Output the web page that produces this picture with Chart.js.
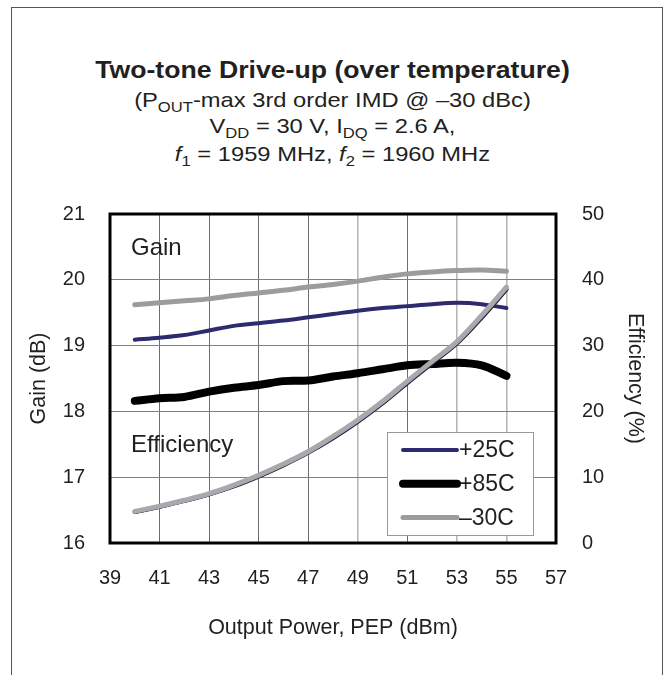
<!DOCTYPE html>
<html>
<head>
<meta charset="utf-8">
<script src="https://cdn.jsdelivr.net/npm/chart.js@4.4.1/dist/chart.umd.min.js"></script>
<style>
  html, body { margin: 0; padding: 0; background: #fff; }
  #wrap { position: relative; width: 665px; height: 675px; overflow: hidden; font-family: "Liberation Sans", Arial, sans-serif; color: #231f20; }
  #frame { position: absolute; left: 11px; top: 7px; width: 650px; height: 720px; border: 1.5px solid #555; border-bottom: none; }
  .t { position: absolute; left: 0; width: 665px; text-align: center; white-space: nowrap; }
  .t1 { top: 58px; font-size: 24px; line-height: 24px; font-weight: bold; transform: scaleX(1.11); }
  .t2 { font-size: 21px; line-height: 21px; transform: scaleX(1.13); }
  .t sub { font-size: 0.7em; vertical-align: baseline; position: relative; top: 0.35em; line-height: 0; }
  canvas { position: absolute; left: 0; top: 0; }
</style>
</head>
<body>
<div id="wrap">
  <div id="frame"></div>
  <div class="t t1">Two-tone Drive-up (over temperature)</div>
  <div class="t t2" style="top:89px">(P<sub>OUT</sub>-max 3rd order IMD @ –30 dBc)</div>
  <div class="t t2" style="top:115px">V<sub>DD</sub> = 30 V, I<sub>DQ</sub> = 2.6 A,</div>
  <div class="t t2" style="top:143px"><i>f</i><sub>1</sub> = 1959 MHz, <i>f</i><sub>2</sub> = 1960 MHz</div>
  <canvas id="chart" width="665" height="675"></canvas>
</div>
<script>
// output power (dBm)
const power = [40, 41, 42, 43, 44, 45, 46, 47, 48, 49, 50, 51, 52, 53, 54, 55];

// gain (dB)
const gain25 = [19.09, 19.12, 19.16, 19.23, 19.30, 19.34, 19.38, 19.43, 19.48, 19.53, 19.57, 19.60, 19.63, 19.65, 19.63, 19.57];
const gain85 = [18.16, 18.20, 18.22, 18.30, 18.36, 18.40, 18.46, 18.47, 18.53, 18.58, 18.64, 18.70, 18.72, 18.74, 18.70, 18.54];
const gainM30 = [19.62, 19.65, 19.68, 19.71, 19.76, 19.80, 19.84, 19.89, 19.93, 19.98, 20.04, 20.09, 20.12, 20.14, 20.15, 20.13];

// efficiency (%)
const eff25 = [4.7, 5.5, 6.4, 7.4, 8.7, 10.2, 11.9, 13.8, 16.0, 18.5, 21.3, 24.4, 27.4, 30.4, 34.3, 38.6];
const eff85 = [4.7, 5.5, 6.4, 7.4, 8.6, 10.1, 11.8, 13.7, 15.9, 18.4, 21.2, 24.3, 27.3, 30.3, 34.2, 38.5];
const effM30 = [4.8, 5.6, 6.5, 7.5, 8.8, 10.3, 12.0, 13.9, 16.2, 18.7, 21.5, 24.6, 27.6, 30.6, 34.6, 38.9];

// tick labels
const xTicks = [39, 41, 43, 45, 47, 49, 51, 53, 55, 57];
const gainTicks = [16, 17, 18, 19, 20, 21];
const effTicks = [0, 10, 20, 30, 40, 50];

const NAVY = '#2d2a6e';
const BLACK = '#000000';
const GRAY = '#9c9ca0';
const EFFGRAY = '#a9a9ac';
const TXT = '#231f20';
const FONT = '"Liberation Sans", Arial, sans-serif';

const pts = (ys) => power.map((x, i) => ({ x: x, y: ys[i] }));

function line(label, ys, color, width, axis, order) {
    return {
        label: label,
        data: pts(ys),
        borderColor: color,
        backgroundColor: color,
        borderWidth: width,
        yAxisID: axis,
        order: order,
        pointRadius: 0,
        tension: 0.35,
        borderCapStyle: 'round',
        borderJoinStyle: 'round',
        fill: false
    };
}

const legendItems = [
    { text: '+25C', color: NAVY, width: 4 },
    { text: '+85C', color: BLACK, width: 8 },
    { text: '–30C', color: GRAY, width: 5 }
];

// border, inner labels and legend box
const decor = {
    id: 'decor',
    afterDraw(chart) {
        const ctx = chart.ctx;
        const a = chart.chartArea;
        ctx.save();
        ctx.strokeStyle = '#000';
        ctx.lineWidth = 3;
        ctx.strokeRect(a.left, a.top, a.right - a.left, a.bottom - a.top);

        ctx.fillStyle = TXT;
        ctx.font = '24px ' + FONT;
        ctx.textBaseline = 'middle';
        ctx.textAlign = 'left';
        ctx.fillText('Gain', a.left + 21, a.top + 34);
        ctx.fillText('Efficiency', a.left + 21, a.top + 231);

        // legend
        const lx = 387, ly = 432, lw = 146, lh = 103;
        ctx.fillStyle = '#fff';
        ctx.fillRect(lx, ly, lw, lh);
        ctx.strokeStyle = '#999';
        ctx.lineWidth = 1;
        ctx.strokeRect(lx + 0.5, ly + 0.5, lw, lh);
        ctx.font = '23px ' + FONT;
        legendItems.forEach((it, i) => {
            const y = ly + 18 + i * 33.7;
            ctx.beginPath();
            ctx.strokeStyle = it.color;
            ctx.lineWidth = it.width;
            ctx.lineCap = 'round';
            ctx.moveTo(lx + 16, y);
            ctx.lineTo(lx + 70, y);
            ctx.stroke();
            ctx.fillStyle = TXT;
            ctx.fillText(it.text, lx + 72, y + 1);
        });
        ctx.restore();
    }
};

new Chart(document.getElementById('chart').getContext('2d'), {
    type: 'line',
    data: {
        datasets: [
            line('+25C', gain25, NAVY, 4, 'y', 5),
            line('+85C', gain85, BLACK, 8, 'y', 4),
            line('–30C', gainM30, GRAY, 5, 'y', 3),
            line('+85C eff', eff85, '#222', 4, 'y2', 2),
            line('+25C eff', eff25, NAVY, 4, 'y2', 1),
            line('–30C eff', effM30, EFFGRAY, 5, 'y2', 0)
        ]
    },
    options: {
        responsive: false,
        animation: false,
        devicePixelRatio: 1,
        layout: { padding: { top: 214, left: 0, right: 0, bottom: 0 } },
        plugins: { legend: { display: false }, tooltip: { enabled: false } },
        scales: {
            x: {
                type: 'linear',
                min: 39,
                max: 57,
                afterBuildTicks: (s) => { s.ticks = xTicks.map(v => ({ value: v })); },
                afterFit: (s) => { s.height = 132; },
                grid: {
                    drawTicks: false,
                    color: (c) => [49, 53, 55].includes(c.tick && c.tick.value) ? '#b8b8b8' : '#6e6e6e',
                    lineWidth: (c) => [49, 53, 55].includes(c.tick && c.tick.value) ? 1.6 : 1
                },
                border: { display: false },
                ticks: { padding: 23, color: TXT, font: { family: FONT, size: 20 } },
                title: { display: true, text: 'Output Power, PEP (dBm)', color: TXT, font: { family: FONT, size: 21.5 }, padding: { top: 0, bottom: 34 } }
            },
            y: {
                position: 'left',
                min: 16,
                max: 21,
                afterBuildTicks: (s) => { s.ticks = gainTicks.map(v => ({ value: v })); },
                afterFit: (s) => { s.width = 110; },
                grid: { drawTicks: false, color: '#808080', lineWidth: 1 },
                border: { display: false },
                ticks: { padding: 25, color: TXT, font: { family: FONT, size: 20 } },
                title: { display: true, text: 'Gain (dB)', color: TXT, font: { family: FONT, size: 21.5 }, padding: { top: 26, bottom: 0 } }
            },
            y2: {
                position: 'right',
                min: 0,
                max: 50,
                afterBuildTicks: (s) => { s.ticks = effTicks.map(v => ({ value: v })); },
                afterFit: (s) => { s.width = 109; },
                grid: { display: false, drawTicks: false },
                border: { display: false },
                ticks: { padding: 26, color: TXT, font: { family: FONT, size: 20 } },
                title: { display: true, text: 'Efficiency (%)', color: TXT, font: { family: FONT, size: 21.5 }, padding: { top: 17, bottom: 0 } }
            }
        }
    },
    plugins: [decor]
});
</script>
</body>
</html>
